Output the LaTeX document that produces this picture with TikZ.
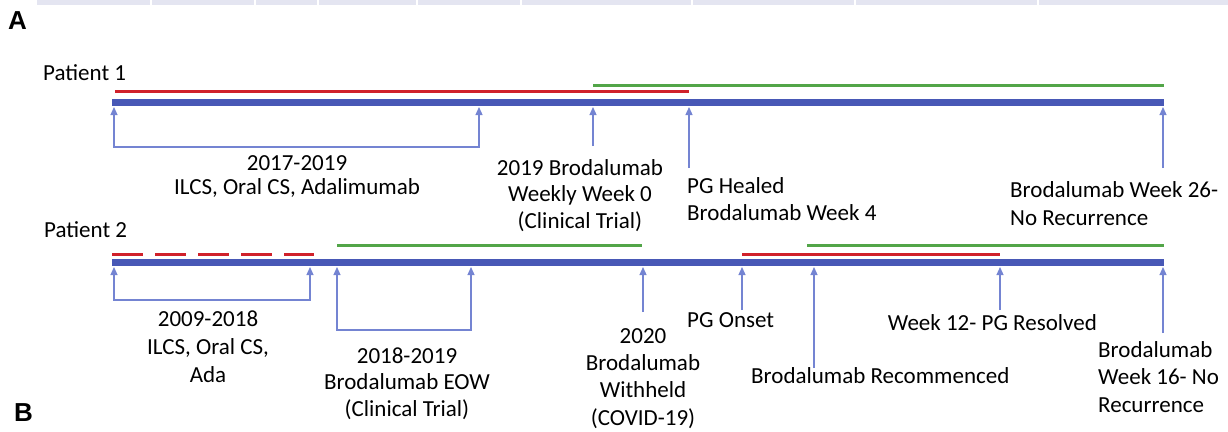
\documentclass[tikz,border=0pt]{standalone}
\usepackage{fontspec}
\setmainfont{Carlito}
\newfontfamily\panelfont{Liberation Sans}
\usetikzlibrary{arrows.meta}
\definecolor{barblue}{HTML}{4858B6}
\definecolor{arrblue}{HTML}{7484D2}
\definecolor{tred}{HTML}{D0212A}
\definecolor{tgreen}{HTML}{52A548}
\definecolor{bandc}{HTML}{E4E5F1}
\tikzset{
  bar/.style={line width=7pt, barblue},
  redline/.style={line width=3pt, tred},
  redd/.style={line width=3pt, tred, dash pattern=on 31pt off 12pt},
  greenline/.style={line width=3pt, tgreen},
  evt/.style={arrblue, line width=1.2pt, -{Triangle[length=8pt,width=7pt]}},
  brk/.style={arrblue, line width=1.2pt, {Triangle[length=8pt,width=7pt]}-{Triangle[length=8pt,width=7pt]}},
  lbl/.style={font=\fontsize{23}{#1}\selectfont, inner sep=0pt, align=center},
  lbl/.default=27,
  lbll/.style={font=\fontsize{23}{#1}\selectfont, inner sep=0pt, align=left},
  lbll/.default=27,
  panel/.style={font=\panelfont\bfseries\fontsize{26}{26}\selectfont, inner sep=0pt}
}
\begin{document}
\begin{tikzpicture}[x=1pt,y=-1pt]
\useasboundingbox (0,0) rectangle (1228,431);
% top band
\fill[bandc] (37,0) rectangle (1228,5);
\foreach \xx in {151,255,318,417,521,692,855,1038}{\fill[white] (\xx-0.7,0) rectangle (\xx+0.7,5);}
\node[panel, anchor=base west] (A) at (8,29) {A};
\node[panel, anchor=base west] (B) at (14,421) {B};

% ---------- Patient 1 ----------
\node[lbll, anchor=base west] (p1) at (43,80) {Patient 1};
\coordinate (p1s) at (112,102.5);
\coordinate (p1e) at (1164,102.5);
\draw[bar] (p1s) -- (p1e);
\coordinate (r1s) at (115,91);  \coordinate (r1e) at (689,91);
\draw[redline] (r1s) -- (r1e);
\coordinate (g1s) at (593,85.5); \coordinate (g1e) at (1164,85.5);
\draw[greenline] (g1s) -- (g1e);

\coordinate (a1) at (114,107); \coordinate (a2) at (479,107); \coordinate (a1b) at (114,147);
\draw[brk] (a1) -- (a1b) -| (a2);
\coordinate (a3t) at (593,107); \coordinate (a3b) at (593,146);
\draw[evt] (a3b) -- (a3t);
\coordinate (a4t) at (689,107); \coordinate (a4b) at (689,168);
\draw[evt] (a4b) -- (a4t);
\coordinate (a5t) at (1163,107); \coordinate (a5b) at (1163,168);
\draw[evt] (a5b) -- (a5t);

\node[lbl=24, anchor=base] (t1) at (297,194) {2017-2019\\ILCS, Oral CS, Adalimumab};
\node[lbl=26.5, anchor=base] (t2) at (580,228) {2019 Brodalumab\\Weekly Week 0\\(Clinical Trial)};
\node[lbll=27, anchor=base west] (t3) at (687,220) {PG Healed\\Brodalumab Week 4};
\node[lbll=28, anchor=base west] (t4) at (1010,225) {Brodalumab Week 26-\\No Recurrence};

% ---------- Patient 2 ----------
\node[lbll, anchor=base west] (p2) at (44,237) {Patient 2};
\coordinate (p2s) at (112,262.5);
\coordinate (p2e) at (1164,262.5);
\draw[bar] (p2s) -- (p2e);
\coordinate (r2s) at (112,254); \coordinate (r2e) at (314,254);
\draw[redd] (r2s) -- (r2e);
\coordinate (g2s) at (337,245); \coordinate (g2e) at (642,245);
\draw[greenline] (g2s) -- (g2e);
\coordinate (r3s) at (742,254); \coordinate (r3e) at (1000,254);
\draw[redline] (r3s) -- (r3e);
\coordinate (g3s) at (807,245); \coordinate (g3e) at (1164,245);
\draw[greenline] (g3s) -- (g3e);

\coordinate (b1) at (114,267); \coordinate (b2) at (310,267); \coordinate (b1b) at (114,300);
\draw[brk] (b1) -- (b1b) -| (b2);
\coordinate (b3) at (337,267); \coordinate (b4) at (471,267); \coordinate (b3b) at (337,330);
\draw[brk] (b3) -- (b3b) -| (b4);
\coordinate (c1t) at (643,267); \coordinate (c1b) at (643,312);
\draw[evt] (c1b) -- (c1t);
\coordinate (c2t) at (742,267); \coordinate (c2b) at (742,310);
\draw[evt] (c2b) -- (c2t);
\coordinate (c3t) at (814,267); \coordinate (c3b) at (814,368);
\draw[evt] (c3b) -- (c3t);
\coordinate (c4t) at (1000,267); \coordinate (c4b) at (1000,310);
\draw[evt] (c4b) -- (c4t);
\coordinate (c5t) at (1163,267); \coordinate (c5b) at (1163,333);
\draw[evt] (c5b) -- (c5t);

\node[lbl=28, anchor=base] (u1) at (208,382) {2009-2018\\ILCS, Oral CS,\\Ada};
\node[lbl=26.5, anchor=base] (u2) at (407,416) {2018-2019\\Brodalumab EOW\\(Clinical Trial)};
\node[lbl=27.3, anchor=base] (u3) at (643,425) {2020\\Brodalumab\\Withheld\\(COVID-19)};
\node[lbll, anchor=base west] (u4) at (687,327) {PG Onset};
\node[lbll, anchor=base west] (u5) at (751,383) {Brodalumab Recommenced};
\node[lbll, anchor=base east] (u6) at (1097,330) {Week 12- PG Resolved};
\node[lbll=27.5, anchor=base west] (u7) at (1098,412) {Brodalumab\\Week 16- No\\Recurrence};
\end{tikzpicture}
\end{document}
